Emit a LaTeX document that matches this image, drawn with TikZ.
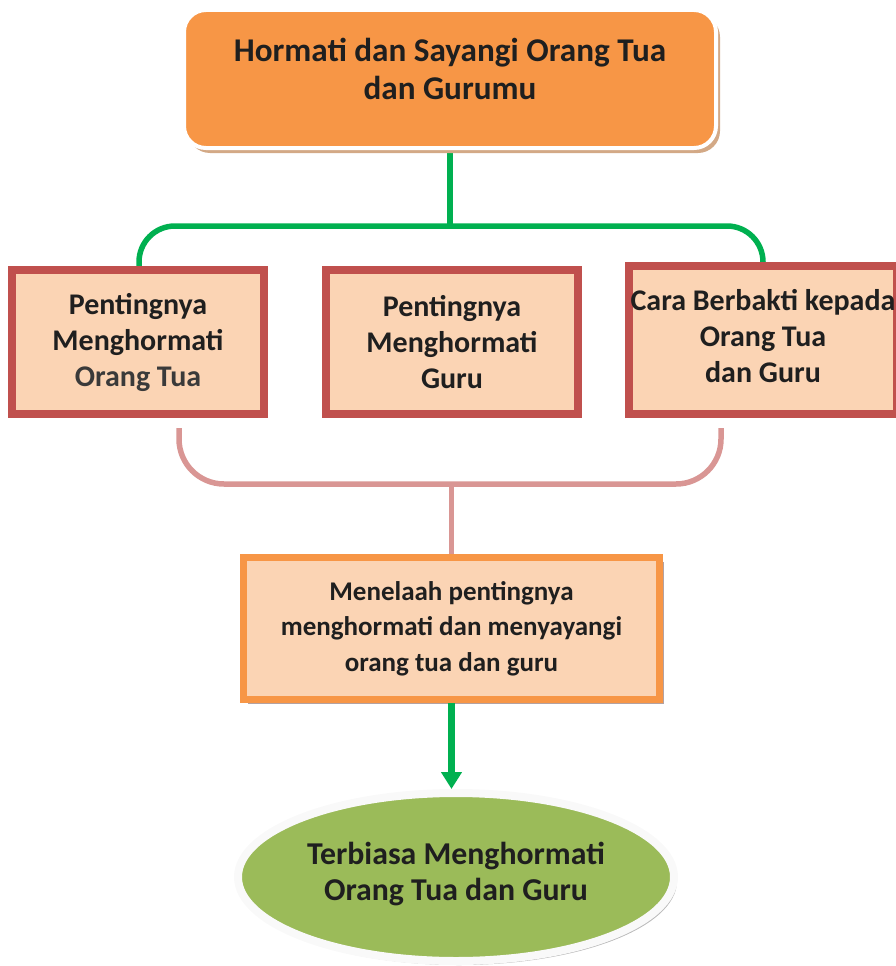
\documentclass[tikz,border=0pt]{standalone}
\usepackage{fontspec}
\setmainfont{Carlito}
\usetikzlibrary{shapes.geometric,shadows,arrows.meta,backgrounds}
\definecolor{orangeA}{HTML}{F79646}
\definecolor{peach}{HTML}{FBD4B4}
\definecolor{redB}{HTML}{C0504D}
\definecolor{greenL}{HTML}{00B050}
\definecolor{pinkL}{HTML}{D99694}
\definecolor{greenE}{HTML}{9BBB59}
\definecolor{tanS}{HTML}{D3A986}
\definecolor{grayS}{HTML}{B3A2A2}
\definecolor{txt}{HTML}{1F1F1F}
\tikzset{
  topbox/.style={rectangle, rounded corners=22pt, fill=orangeA, draw=white, line width=4pt,
    minimum width=532pt, minimum height=138pt, inner sep=0pt, align=center, text=txt,
    font=\fontsize{33.2}{38}\selectfont\bfseries,
    general shadow={fill=tanS, shadow xshift=4pt, shadow yshift=-5pt}},
  redbox/.style={rectangle, fill=peach, draw=redB, line width=8pt,
    minimum width=252pt, minimum height=144pt, inner sep=0pt, align=center, text=txt,
    font=\fontsize{30}{36}\selectfont\bfseries,
    general shadow={fill=grayS, shadow xshift=4pt, shadow yshift=-4pt}},
  orbox/.style={rectangle, fill=peach, draw=orangeA, line width=7pt,
    minimum width=416pt, minimum height=142pt, inner sep=0pt, align=center, text=txt,
    font=\fontsize{27}{35.5}\selectfont\bfseries,
    general shadow={fill=grayS, shadow xshift=4pt, shadow yshift=-4pt}},
  goal/.style={ellipse, fill=greenE, draw=white!95!gray, line width=8pt,
    minimum width=436pt, minimum height=168pt, inner sep=0pt, align=center, text=txt,
    font=\fontsize{31.8}{36}\selectfont\bfseries,
    general shadow={fill=gray!55, shadow xshift=3pt, shadow yshift=-4pt}},
  gline/.style={draw=greenL, line width=5.5pt},
  pline/.style={draw=pinkL, line width=5.5pt},
}
\begin{document}
\begin{tikzpicture}[x=1pt,y=-1pt]
\useasboundingbox (0,0) rectangle (896,966);
\node[topbox] (top) at (450,79) {Hormati dan Sayangi Orang Tua\\dan Gurumu\\[-30pt]\strut};
\node[redbox] (b1) at (138,342) {Pentingnya\\Menghormati\\{\color{txt!88!white}Orang Tua}};
\node[redbox] (b2) at (452,342) {Pentingnya\\Menghormati\\Guru};
\node[redbox, minimum width=268pt, minimum height=148pt] (b3) at (763,340) {Cara Berbakti kepada\\Orang Tua\\dan Guru\\[-38pt]\strut};
\node[orbox] (mid) at (451.5,628.5) {Menelaah pentingnya\\menghormati dan menyayangi\\orang tua dan guru};
\node[goal] (end) at (456,877) {Terbiasa Menghormati\\Orang Tua dan Guru\\[-36pt]\strut};
\begin{pgfonlayer}{background}
  \draw[gline] (top.south) -- ++(0,76);
  \draw[gline, rounded corners=36pt] (b1.north) ++(1,0) -- ++(0,-40) -| (b3.north);
  \coordinate (pl) at ([xshift=41pt,yshift=-10pt]b1.south);
  \coordinate (pr) at ([xshift=-42pt,yshift=-10pt]b3.south);
  \draw[pline, rounded corners=45pt] (pl) -- ++(0,56) -| (pr);
  \draw[pline] (mid.north) -- ++(0,-72);
\end{pgfonlayer}
\draw[draw=greenL, line width=7pt, -{Triangle[width=20pt,length=17pt]}] (mid.south) -- (mid.south |- end.north);
\end{tikzpicture}
\end{document}
